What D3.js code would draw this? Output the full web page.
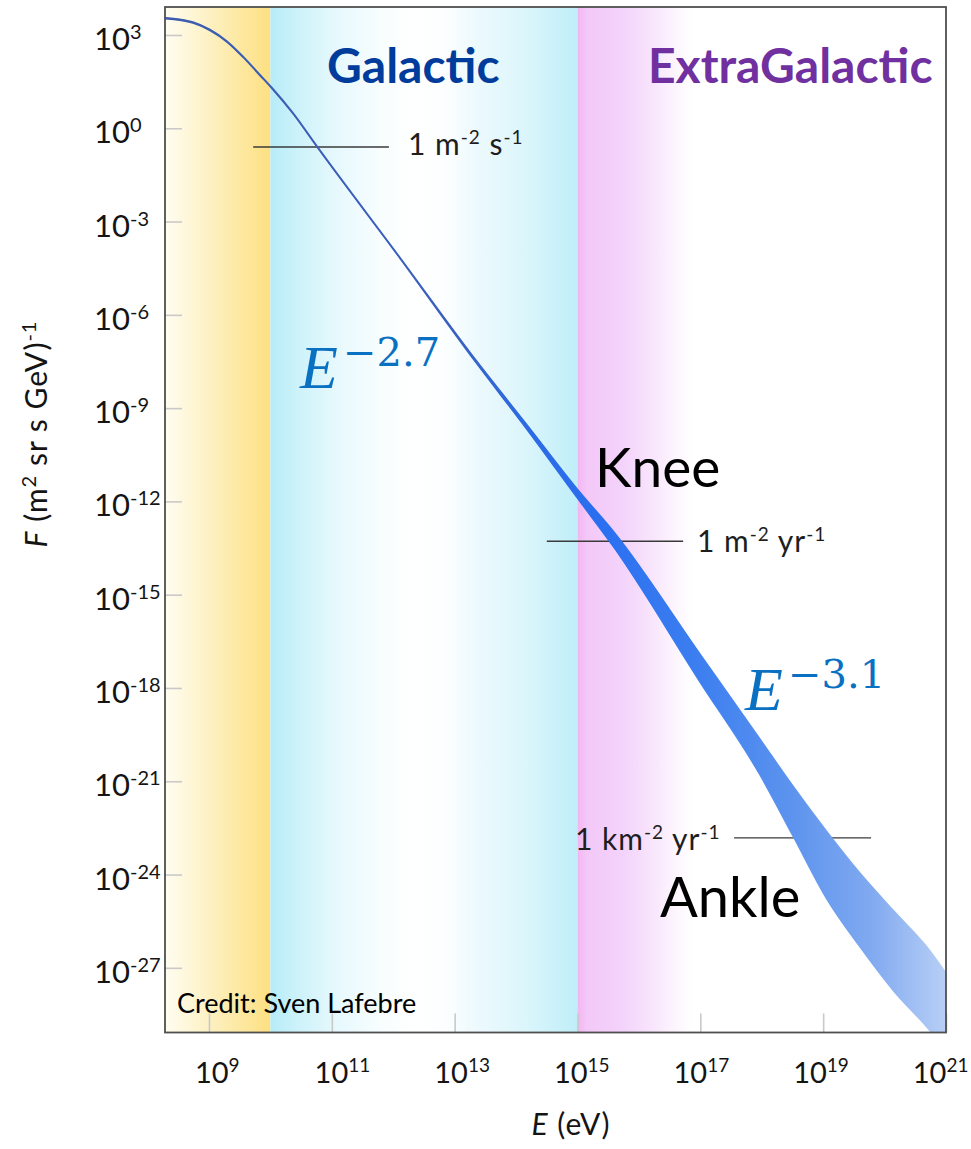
<!DOCTYPE html>
<html>
<head>
<meta charset="utf-8">
<script src="https://cdn.jsdelivr.net/npm/d3@7"></script>
<style>
  html, body { margin: 0; padding: 0; background: #fff; }
  svg { display: block; }
</style>
</head>
<body>
<svg id="chart" width="971" height="1149"></svg>
<script>
// Cosmic-ray all-particle flux spectrum, log10 units.
const logEnergy     = [8.284, 8.739, 9.016, 9.293, 9.554, 9.830, 10.026, 10.368, 10.759, 12.110, 13.331, 14.177, 14.992, 15.610, 16.994, 17.971, 18.508, 19.062, 19.599, 20.137, 20.690, 21.0];
const logFluxUpper  = [3.56, 3.42, 3.18, 2.81, 2.32, 1.73, 1.31, 0.50, -0.57, -4.15, -7.41, -9.53, -11.59, -13.02, -16.90, -19.64, -21.15, -22.62, -23.95, -25.14, -26.33, -27.17];
const logFluxLower  = [3.52, 3.38, 3.14, 2.77, 2.28, 1.69, 1.27, 0.46, -0.61, -4.19, -7.50, -9.69, -11.88, -13.53, -17.81, -20.80, -22.76, -24.80, -26.33, -27.72, -28.91, -29.65];

// Axis ticks (exponents of ten)
const xTickExponents = [9, 11, 13, 15, 17, 19, 21];
const yTickExponents = [3, 0, -3, -6, -9, -12, -15, -18, -21, -24, -27];

// Axis extent (exponents)
const logEnergyDomain = [8.284, 21];
const logFluxDomain   = [-29.08, 3.9];

// Region boundaries in log10(E/eV)
const galacticStart = 10;
const extraGalacticStart = 15;

// Integral-flux reference lines: [log10 F, log10 E from, log10 E to]
const refLineFlux   = [-0.60, -13.28, -22.82];
const refLineFrom   = [9.72, 14.50, 17.55];
const refLineTo     = [11.93, 16.72, 19.78];
const refLineLabels = [
  [{t: "1 m"}, {t: "-2", sup: true}, {t: " s"}, {t: "-1", sup: true}],
  [{t: "1 m"}, {t: "-2", sup: true}, {t: " yr"}, {t: "-1", sup: true}],
  [{t: "1 km"}, {t: "-2", sup: true}, {t: " yr"}, {t: "-1", sup: true}]
];

const svg = d3.select("#chart");
const M = {left: 165, right: 946, top: 7, bottom: 1032.5};

const x = d3.scaleLog().domain(logEnergyDomain.map(e => 10 ** e)).range([M.left, M.right]);
const y = d3.scaleLog().domain(logFluxDomain.map(e => 10 ** e)).range([M.bottom, M.top]);

const defs = svg.append("defs");
defs.append("clipPath").attr("id", "plotClip")
  .append("rect").attr("x", M.left).attr("y", M.top)
  .attr("width", M.right - M.left).attr("height", M.bottom - M.top);

function hGradient(id, x1, x2, stops) {
  const g = defs.append("linearGradient").attr("id", id)
    .attr("gradientUnits", "userSpaceOnUse")
    .attr("x1", x1).attr("x2", x2).attr("y1", 0).attr("y2", 0);
  stops.forEach(([o, c]) => g.append("stop").attr("offset", o).attr("stop-color", c));
}

const plot = svg.append("g").attr("clip-path", "url(#plotClip)");

// Background regions
const xGal = x(10 ** galacticStart), xExt = x(10 ** extraGalacticStart);
hGradient("solarGrad", M.left, xGal, [[0, "#fffdf2"], [0.45, "#fdf0bf"], [1, "#fde082"]]);
hGradient("galGrad", xGal, xExt, [
  [0, "#b7ecf8"], [0.09, "#cdf2fa"], [0.22, "#e7f9fd"], [0.36, "#f8fdfe"], [0.48, "#ffffff"],
  [0.58, "#fbfeff"], [0.66, "#eefafd"], [0.84, "#daf5fb"], [1, "#bfeef9"]
]);
hGradient("extGrad", xExt, xExt + 115, [
  [0, "#f4b4f1"], [0.08, "#f3c8f8"], [0.4, "#f3d3fb"], [0.65, "#f8e5fc"], [0.85, "#fdf5fe"], [1, "#ffffff"]
]);
plot.append("rect").attr("x", M.left).attr("y", M.top).attr("width", xGal - M.left)
  .attr("height", M.bottom - M.top).attr("fill", "url(#solarGrad)");
plot.append("rect").attr("x", xGal).attr("y", M.top).attr("width", xExt - xGal)
  .attr("height", M.bottom - M.top).attr("fill", "url(#galGrad)");
plot.append("rect").attr("x", xExt).attr("y", M.top).attr("width", 115)
  .attr("height", M.bottom - M.top).attr("fill", "url(#extGrad)");

// Axis ticks (inward, light grey)
const xAxis = svg.append("g").attr("transform", `translate(0,${M.bottom})`)
  .call(d3.axisBottom(x).tickValues(xTickExponents.map(e => 10 ** e)).tickSize(-19).tickFormat(""));
const yAxis = svg.append("g").attr("transform", `translate(${M.left},0)`)
  .call(d3.axisLeft(y).tickValues(yTickExponents.map(e => 10 ** e)).tickSize(-17).tickFormat(""));
[xAxis, yAxis].forEach(a => {
  a.select(".domain").remove();
  a.selectAll(".tick line").attr("stroke", "#c9c9c9").attr("stroke-width", 1.6);
});

// Text with superscripts / italics
function rich(sel, parts, supSize, rise) {
  let lift = 0;
  parts.forEach(p => {
    const ts = sel.append("tspan").text(p.t);
    if (p.it) ts.attr("font-style", "italic");
    if (p.sup) {
      ts.attr("font-size", supSize).attr("dy", -rise - lift);
      lift = -rise;
    } else {
      ts.attr("dy", -lift);
      lift = 0;
    }
  });
  return sel;
}

const tickFont = "Lato, 'Open Sans', sans-serif";
yTickExponents.forEach(e => {
  const t = svg.append("text").attr("x", 94).attr("y", y(10 ** e) + 15)
    .attr("font-family", tickFont).attr("font-size", 31).attr("fill", "#141414");
  rich(t, [{t: "10"}, {t: String(e), sup: true}], 20, 11);
});
// x labels drift slightly left of their ticks so the last one stays inside the frame
xTickExponents.forEach(e => {
  const t = svg.append("text").attr("x", x(10 ** e) - 14 - 1.6 * (e - 9)).attr("y", 1083)
    .attr("font-family", tickFont).attr("font-size", 29).attr("fill", "#141414");
  rich(t, [{t: "10"}, {t: String(e), sup: true}], 19, 11);
});

// Axis titles
rich(svg.append("text").attr("x", 571).attr("y", 1135).attr("text-anchor", "middle")
  .attr("font-family", tickFont).attr("font-size", 30).attr("letter-spacing", 1).attr("fill", "#141414"),
  [{t: "E", it: true}, {t: " (eV)"}], 30, 0);
rich(svg.append("text").attr("transform", "translate(47,434) rotate(-90)").attr("text-anchor", "middle")
  .attr("font-family", tickFont).attr("font-size", 30).attr("letter-spacing", 1).attr("fill", "#141414"),
  [{t: "F", it: true}, {t: " (m"}, {t: "2", sup: true}, {t: " sr s GeV)"}, {t: "-1", sup: true}], 20, 11);

// Reference flux lines and labels
refLineFlux.forEach((f, i) => {
  plot.append("line")
    .attr("x1", x(10 ** refLineFrom[i])).attr("x2", x(10 ** refLineTo[i]))
    .attr("y1", y(10 ** f)).attr("y2", y(10 ** f))
    .attr("stroke", "#3a3a3a").attr("stroke-width", 1.4);
});
const refLabelPos = [[408, 155], [697, 552], [575, 850]];
refLineLabels.forEach((parts, i) => {
  rich(svg.append("text").attr("x", refLabelPos[i][0]).attr("y", refLabelPos[i][1])
    .attr("font-family", tickFont).attr("font-size", 30).attr("letter-spacing", 1).attr("fill", "#1e1e1e"),
    parts, 19, 11);
});

// Flux band
hGradient("fluxGrad", M.left, M.right, [
  [0, "#3d5cad"], [0.365, "#3a60bf"], [0.455, "#2c69e3"], [0.557, "#2a6ff0"],
  [0.685, "#3d7ff0"], [0.8, "#5c93ee"], [0.903, "#80a9f0"], [1, "#b8cff6"]
]);
const band = logEnergy.map((e, i) => ({e, hi: logFluxUpper[i], lo: logFluxLower[i]}));
const area = d3.area()
  .x(d => x(10 ** d.e))
  .y0(d => y(10 ** d.lo))
  .y1(d => y(10 ** d.hi))
  .curve(d3.curveMonotoneX);
plot.append("path").datum(band).attr("d", area)
  .attr("fill", "url(#fluxGrad)").attr("stroke", "url(#fluxGrad)").attr("stroke-width", 1.3)
  .attr("stroke-linejoin", "round");

// Frame
svg.append("rect").attr("x", M.left).attr("y", M.top)
  .attr("width", M.right - M.left).attr("height", M.bottom - M.top)
  .attr("fill", "none").attr("stroke", "#4f4f4f").attr("stroke-width", 1.8);

// Region titles
const titleFont = "Lato, 'Open Sans', sans-serif";
svg.append("text").attr("x", 327).attr("y", 83).attr("font-family", titleFont)
  .attr("font-weight", 700).attr("font-size", 48).attr("fill", "#003c9c").text("Galactic");
svg.append("text").attr("x", 648).attr("y", 83).attr("font-family", titleFont)
  .attr("font-weight", 700).attr("font-size", 48).attr("fill", "#7030a0").text("ExtraGalactic");

// Spectral features
svg.append("text").attr("x", 595).attr("y", 487).attr("font-family", titleFont)
  .attr("font-size", 55).attr("fill", "#000").text("Knee");
svg.append("text").attr("x", 660).attr("y", 917).attr("font-family", titleFont)
  .attr("font-size", 56).attr("fill", "#000").text("Ankle");

// Power-law indices
function powerLaw(px, py, expo) {
  svg.append("text").attr("x", px).attr("y", py)
    .attr("font-family", "'Liberation Serif', serif").attr("font-style", "italic")
    .attr("font-size", 62).attr("fill", "#0a70c2").text("E");
  svg.append("text").attr("x", px + 43).attr("y", py - 22)
    .attr("font-family", "'DejaVu Serif', serif")
    .attr("font-size", 40).attr("fill", "#0a70c2").text("\u2212" + expo);
}
powerLaw(300, 388, "2.7");
powerLaw(745, 710, "3.1");

// Credit
svg.append("text").attr("x", 177).attr("y", 1013).attr("font-family", titleFont)
  .attr("font-size", 27).attr("fill", "#000").text("Credit: Sven Lafebre");
</script>
</body>
</html>
